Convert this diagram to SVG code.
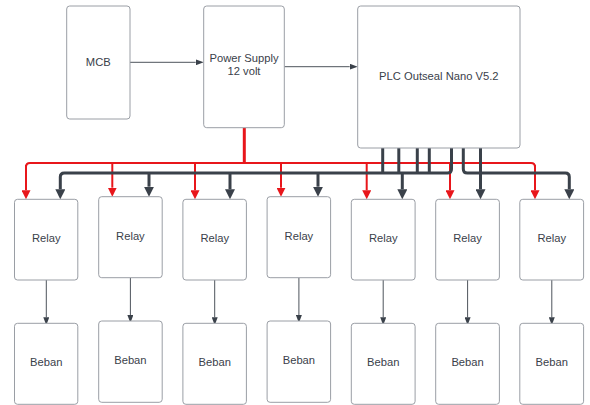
<svg xmlns="http://www.w3.org/2000/svg" width="590" height="405" viewBox="0 0 590 405">
<style>
.box{fill:#fff;stroke:#9a9ea5;stroke-width:1}
.lbl{font-family:"Liberation Sans",Arial,sans-serif;font-size:11.2px;fill:#3a414a;text-anchor:middle;dominant-baseline:central}
.thin{fill:none;stroke:#3a414a;stroke-width:0.9}
.red{fill:none;stroke:#e8161b;stroke-width:2}
.blk{fill:none;stroke:#3a414a;stroke-width:3}
</style>
<defs>
<marker id="ah" markerUnits="userSpaceOnUse" markerWidth="8" markerHeight="6" refX="0" refY="3" orient="auto" viewBox="0 0 8 6"><path d="M0,0 L8,3 L0,6 z" fill="#3a414a"/></marker>
<marker id="ar" markerUnits="userSpaceOnUse" markerWidth="9" markerHeight="9" refX="0" refY="4.5" orient="auto" viewBox="0 0 9 9"><path d="M0,0 L9,4.5 L0,9 z" fill="#e8161b"/></marker>
<marker id="ab" markerUnits="userSpaceOnUse" markerWidth="10" markerHeight="10" refX="0" refY="5" orient="auto" viewBox="0 0 10 10"><path d="M0,0 L10,5 L0,10 z" fill="#3a414a"/></marker>
</defs>
<rect width="590" height="405" fill="#fff"/>
<g id="connectors">
<path class="thin" d="M130,62.3 H195.7" marker-end="url(#ah)"/>
<path class="thin" d="M284.3,66.7 H349.7" marker-end="url(#ah)"/>
<path class="red" d="M244.3,128 V163" style="stroke-width:3"/>
<path class="red" d="M26,167 Q26,163 30,163 H531 Q535,163 535,167"/>
<path class="red" d="M26,165 V190.3" marker-end="url(#ar)"/>
<path class="red" d="M112.3,163 V187.7" marker-end="url(#ar)"/>
<path class="red" d="M195,163 V190.3" marker-end="url(#ar)"/>
<path class="red" d="M281,163 V187.7" marker-end="url(#ar)"/>
<path class="red" d="M366.7,163 V190.3" marker-end="url(#ar)"/>
<path class="red" d="M450,163 V190.3" marker-end="url(#ar)"/>
<path class="red" d="M535,165 V190.3" marker-end="url(#ar)"/>
<path class="blk" d="M451.5,148 V169 Q451.5,173 447.5,173 H64.3 Q60.3,173 60.3,177 V189.3" marker-end="url(#ab)"/>
<path class="blk" d="M382.7,148 V173"/>
<path class="blk" d="M398.8,148 V173"/>
<path class="blk" d="M417.3,148 V173"/>
<path class="blk" d="M429.3,148 V173"/>
<path class="blk" d="M149,173 V186.7" marker-end="url(#ab)"/>
<path class="blk" d="M230,173 V189.3" marker-end="url(#ab)"/>
<path class="blk" d="M318,173 V186.7" marker-end="url(#ab)"/>
<path class="blk" d="M402.3,173 V189.3" marker-end="url(#ab)"/>
<path class="blk" d="M480.5,148 V189.3" marker-end="url(#ab)"/>
<path class="blk" d="M463.3,148 V169 Q463.3,173 467.3,173 H565.3 Q569.3,173 569.3,177 V189.3" marker-end="url(#ab)"/>
<path class="thin" d="M46.3,280 V317.3" marker-end="url(#ah)"/>
<path class="thin" d="M130.4,277.7 V315" marker-end="url(#ah)"/>
<path class="thin" d="M214.7,280 V317.3" marker-end="url(#ah)"/>
<path class="thin" d="M298.9,277.7 V315" marker-end="url(#ah)"/>
<path class="thin" d="M383.2,280 V317.3" marker-end="url(#ah)"/>
<path class="thin" d="M467.6,280 V317.3" marker-end="url(#ah)"/>
<path class="thin" d="M551.8,280 V317.3" marker-end="url(#ah)"/>
</g>
<g id="mcb"><rect class="box" x="66.7" y="6" width="63.3" height="113" rx="3"/><text class="lbl" x="98.3" y="61.5">MCB</text></g>
<g id="power-supply"><rect class="box" x="203.7" y="6" width="80.6" height="121.7" rx="3"/><text class="lbl" x="244" y="57.7">Power Supply</text><text class="lbl" x="244" y="71">12 volt</text></g>
<g id="plc"><rect class="box" x="357.7" y="6" width="162.3" height="142" rx="3"/><text class="lbl" x="438.8" y="76">PLC Outseal Nano V5.2</text></g>
<g id="relay1"><rect class="box" x="14.5" y="199.3" width="63.3" height="80.7" rx="3"/><text class="lbl" x="46.2" y="237.7">Relay</text></g>
<g id="relay2"><rect class="box" x="98.7" y="196.7" width="63.5" height="81" rx="3"/><text class="lbl" x="130.4" y="235.7">Relay</text></g>
<g id="relay3"><rect class="box" x="182.9" y="199.3" width="63.5" height="80.7" rx="3"/><text class="lbl" x="214.7" y="237.7">Relay</text></g>
<g id="relay4"><rect class="box" x="267.1" y="196.7" width="63.5" height="81" rx="3"/><text class="lbl" x="298.9" y="235.7">Relay</text></g>
<g id="relay5"><rect class="box" x="351.3" y="199.3" width="63.8" height="80.7" rx="3"/><text class="lbl" x="383.2" y="237.7">Relay</text></g>
<g id="relay6"><rect class="box" x="435.7" y="199.3" width="63.7" height="80.7" rx="3"/><text class="lbl" x="467.6" y="237.7">Relay</text></g>
<g id="relay7"><rect class="box" x="519.8" y="199.3" width="63.8" height="80.7" rx="3"/><text class="lbl" x="551.8" y="237.7">Relay</text></g>
<g id="beban1"><rect class="box" x="14.5" y="323.3" width="63.3" height="81" rx="3"/><text class="lbl" x="46.2" y="361.7">Beban</text></g>
<g id="beban2"><rect class="box" x="98.7" y="321" width="63.5" height="81.3" rx="3"/><text class="lbl" x="130.4" y="360">Beban</text></g>
<g id="beban3"><rect class="box" x="182.9" y="323.3" width="63.5" height="81" rx="3"/><text class="lbl" x="214.7" y="361.7">Beban</text></g>
<g id="beban4"><rect class="box" x="267.1" y="321" width="63.5" height="81.3" rx="3"/><text class="lbl" x="298.9" y="360">Beban</text></g>
<g id="beban5"><rect class="box" x="351.3" y="323.3" width="63.8" height="81" rx="3"/><text class="lbl" x="383.2" y="361.7">Beban</text></g>
<g id="beban6"><rect class="box" x="435.7" y="323.3" width="63.7" height="81" rx="3"/><text class="lbl" x="467.6" y="361.7">Beban</text></g>
<g id="beban7"><rect class="box" x="519.8" y="323.3" width="63.8" height="81" rx="3"/><text class="lbl" x="551.8" y="361.7">Beban</text></g>
</svg>
